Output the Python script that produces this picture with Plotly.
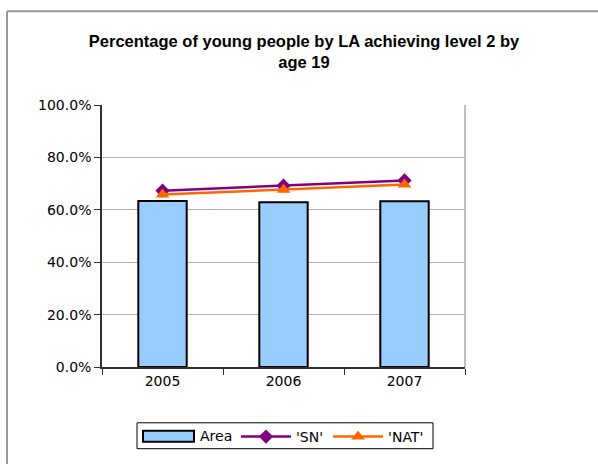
import plotly.graph_objects as go

years = ["2005", "2006", "2007"]
area = [0.634, 0.629, 0.633]
sn = [0.673, 0.692, 0.712]
nat = [0.658, 0.677, 0.697]

L, R, T, B = 102, 133, 105, 96
W, H = 598, 464
pw, ph = W - L - R, H - T - B
FONT = "DejaVu Sans, Verdana, sans-serif"
TITLE_FONT = "Liberation Sans, Arial, sans-serif"
BAR_FILL = "#99ccff"


def px(x):
    return (x - L) / pw


def py(y):
    return (H - B - y) / ph


fig = go.Figure()
fig.add_trace(go.Bar(
    x=years, y=area, name="Area", width=0.4, showlegend=False,
    marker=dict(color=BAR_FILL, line=dict(color="#000000", width=2)),
))
fig.add_trace(go.Scatter(
    x=years, y=sn, name="'SN'", mode="lines+markers",
    line=dict(color="#800080", width=2.5),
    marker=dict(symbol="diamond", size=11, color="#800080"),
))
fig.add_trace(go.Scatter(
    x=years, y=nat, name="'NAT'", mode="lines+markers",
    line=dict(color="#ff6600", width=2.5),
    marker=dict(symbol="triangle-up", size=12, color="#ff6600"),
))

# outer chart frame (only top/left visible in the source)
fig.add_shape(type="line", xref="paper", yref="paper",
              x0=px(7), x1=px(600), y0=py(11), y1=py(11),
              line=dict(color="#999999", width=2))
fig.add_shape(type="line", xref="paper", yref="paper",
              x0=px(7), x1=px(7), y0=py(11), y1=py(470),
              line=dict(color="#999999", width=2))
# plot area border on the right
fig.add_shape(type="line", xref="paper", yref="paper",
              x0=1, x1=1, y0=0, y1=1,
              line=dict(color="#c0c0c0", width=2))
# legend box
fig.add_shape(type="rect", xref="paper", yref="paper",
              x0=px(137), x1=px(433), y0=py(424), y1=py(450),
              line=dict(color="#000000", width=1), fillcolor="white", layer="below")
# wide swatch for the bar series (Excel style)
fig.add_shape(type="rect", xref="paper", yref="paper",
              x0=px(143), x1=px(194), y0=py(432), y1=py(443),
              line=dict(color="#000000", width=2), fillcolor=BAR_FILL)
fig.add_annotation(text="Area", xref="paper", yref="paper", x=px(198), y=py(437.5),
                   xanchor="left", yanchor="middle", showarrow=False,
                   font=dict(family=FONT, size=14))

fig.update_layout(
    width=W, height=H,
    margin=dict(l=L, r=R, t=T, b=B),
    paper_bgcolor="white", plot_bgcolor="white",
    font=dict(family=FONT, size=14, color="#000000"),
    title=dict(
        text="<b>Percentage of young people by LA achieving level 2 by<br>age 19</b>",
        x=px(304), xanchor="center", xref="paper", y=1 - 47 / H, yanchor="top",
        font=dict(family=TITLE_FONT, size=16.5),
    ),
    bargap=0.6,
    showlegend=True,
    legend=dict(
        orientation="h", x=px(236), xanchor="left", y=py(437), yanchor="middle",
        bgcolor="rgba(0,0,0,0)", font=dict(family=FONT, size=14),
        itemwidth=50, tracegroupgap=0,
    ),
)
fig.update_yaxes(
    range=[0, 1], tickformat=".1%", dtick=0.2,
    showgrid=True, gridcolor="#b0b0b0", gridwidth=1,
    showline=True, linecolor="#303030", linewidth=1.5,
    ticks="outside", ticklen=6, tickcolor="#303030",
    zeroline=False, tickfont=dict(size=14),
)
fig.update_xaxes(
    showline=True, linecolor="#303030", linewidth=1.5,
    ticks="outside", ticklen=6, tickcolor="#303030",
    tickson="boundaries", tickfont=dict(size=14),
)

fig.write_html("out.html", config={"displayModeBar": False},
               post_script="document.body.style.margin='0';")
